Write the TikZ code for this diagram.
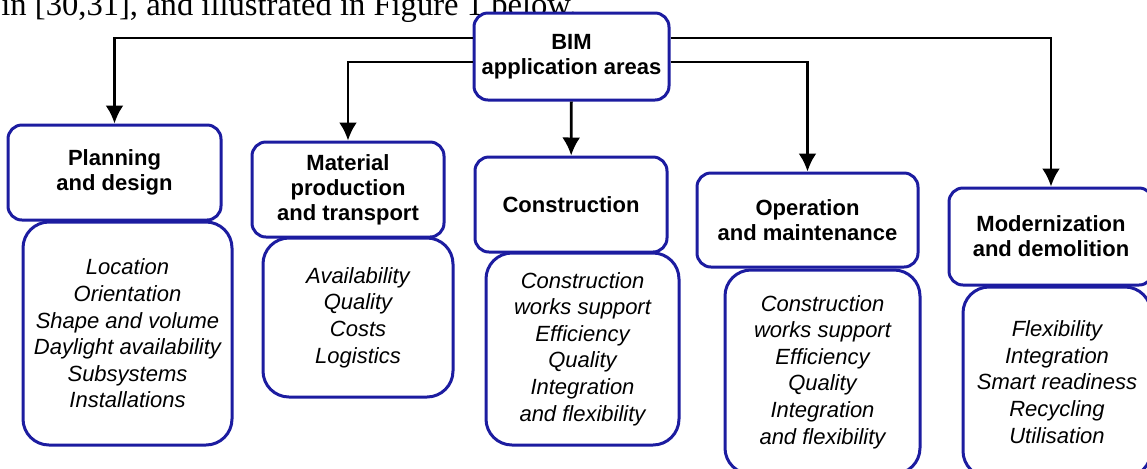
\documentclass[tikz,border=0pt]{standalone}
\usepackage{fontspec}
\setmainfont{Liberation Sans}
\newfontfamily\capfont{Liberation Serif}
\usetikzlibrary{arrows.meta}

\definecolor{boxblue}{RGB}{28,28,160}
\tikzset{
  area/.style={draw=boxblue, line width=1.5pt, fill=white, rounded corners=7pt,
    align=center, inner sep=0pt, font=\bfseries\fontsize{11}{12.5}\selectfont},
  topics/.style={draw=boxblue, line width=1.5pt, fill=white, rounded corners=13pt,
    align=center, inner sep=0pt, font=\itshape\fontsize{11}{13.3}\selectfont},
  size/.style 2 args={minimum width=#1*0.5pt, minimum height=#2*0.5pt}
}

\begin{document}
\begin{tikzpicture}[x=0.5pt, y=-0.5pt, >={Latex[length=9pt,width=9pt]}, line width=1.4pt]

\useasboundingbox (0,0) rectangle (1147,468);
\clip (0,0) rectangle (1147,468);

% text line of the page above the figure
\node[anchor=base west, inner sep=0pt, font=\capfont\fontsize{16.3}{18}\selectfont] (intro) at (0,15)
  {in [30,31], and illustrated in Figure 1 below.};

\node[area, size={195}{87}] (root) at (571.5,56.5) {BIM\\application areas};

% the five areas
\node[area, size={213}{95}] (plan) at (114.5,172.5) {Planning\\and design};
\node[area, size={192}{95}] (mat)  at (348,189.5)   {Material\\production\\and transport};
\node[area, size={192}{95}] (cons) at (571,204.5)   {Construction};
\node[area, size={221}{94}] (oper) at (807.5,220)   {Operation\\and maintenance};
\node[area, size={204}{97}] (mod)  at (1051,236.5)  {Modernization\\and demolition};

% what each area covers
\node[topics, size={209}{223}] (planT) at (127.5,333.5)
  {Location\\Orientation\\Shape and volume\\Daylight availability\\Subsystems\\Installations};
\node[topics, size={190}{159}] (matT) at (358,317.5)
  {Availability\\Quality\\Costs\\Logistics};
\node[topics, size={193}{192}] (consT) at (582.5,349)
  {Construction\\works support\\Efficiency\\Quality\\Integration\\and flexibility};
\node[topics, size={195}{204}] (operT) at (822.5,372)
  {Construction\\works support\\Efficiency\\Quality\\Integration\\and flexibility};
\node[topics, size={188}{190}] (modT) at (1057,382)
  {Flexibility\\Integration\\Smart readiness\\Recycling\\Utilisation};

\draw[->] ([yshift=9.25pt]root.west) -| (plan);
\draw[->] ([yshift=-2.75pt]root.west) -| (mat);
\draw[->] (root) -- (cons);
\draw[->] ([yshift=-2.75pt]root.east) -| (oper);
\draw[->] ([yshift=9.25pt]root.east) -| (mod);

\end{tikzpicture}
\end{document}
